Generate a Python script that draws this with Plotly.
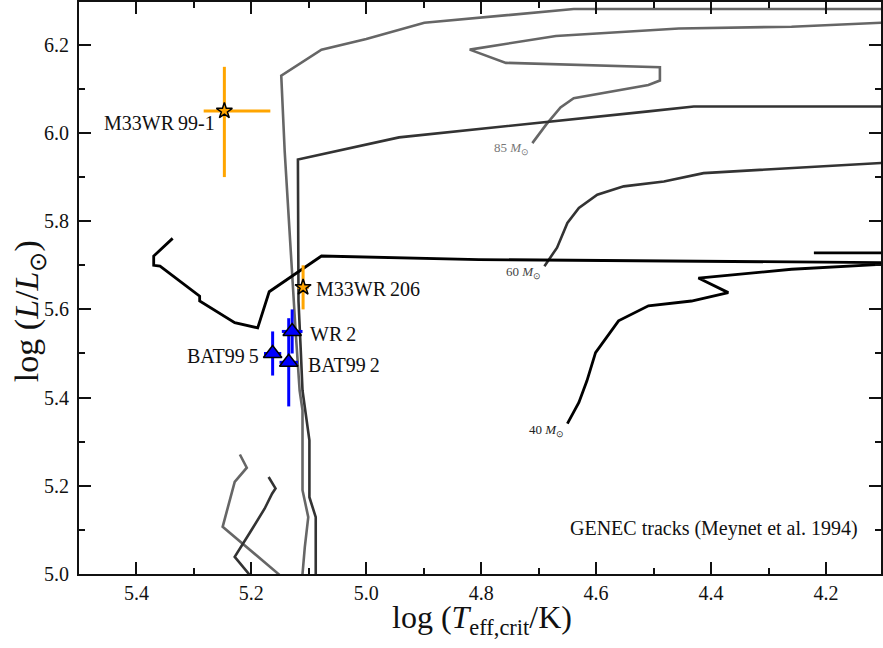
import plotly.graph_objects as go

# ---------------- evolutionary tracks (GENEC, Meynet et al. 1994) ----------------
# log Teff and log L along each track; segments that leave and re-enter the frame
# are stored separately.

# 85 Msun
t85_a_x = [4.711, 4.687, 4.662, 4.639, 4.509, 4.489, 4.489, 4.757, 4.820, 4.670, 4.456, 4.260, 4.104, 4.000]
t85_a_y = [5.977, 6.019, 6.058, 6.079, 6.109, 6.119, 6.149, 6.159, 6.189, 6.220, 6.237, 6.241, 6.250, 6.255]
t85_b_x = [4.000, 4.639, 4.899, 5.000, 5.078, 5.148, 5.142, 5.135, 5.130, 5.123, 5.116, 5.111, 5.111, 5.101, 5.107, 5.111, 5.111]
t85_b_y = [6.281, 6.281, 6.250, 6.213, 6.189, 6.130, 5.958, 5.800, 5.687, 5.551, 5.416, 5.371, 5.190, 5.129, 5.061, 5.000, 4.950]
t85_c_x = [5.220, 5.208, 5.229, 5.250, 5.151, 5.140]
t85_c_y = [5.271, 5.241, 5.209, 5.107, 4.998, 4.985]

# 60 Msun
t60_a_x = [4.690, 4.668, 4.650, 4.630, 4.598, 4.552, 4.482, 4.413, 4.104, 4.000]
t60_a_y = [5.698, 5.740, 5.796, 5.830, 5.860, 5.879, 5.890, 5.909, 5.932, 5.934]
t60_b_x = [4.000, 4.430, 4.509, 4.943, 5.119, 5.119, 5.118, 5.114, 5.111, 5.099, 5.099, 5.088, 5.088]
t60_b_y = [6.060, 6.060, 6.049, 5.990, 5.940, 5.800, 5.619, 5.506, 5.416, 5.303, 5.174, 5.129, 4.950]
t60_c_x = [5.170, 5.158, 5.164, 5.177, 5.203, 5.229, 5.203, 5.195]
t60_c_y = [5.220, 5.194, 5.182, 5.148, 5.093, 5.039, 4.998, 4.985]

# 40 Msun
t40_a_x = [4.650, 4.630, 4.616, 4.601, 4.561, 4.509, 4.434, 4.370, 4.422, 4.260, 4.104, 4.000]
t40_a_y = [5.341, 5.389, 5.438, 5.502, 5.574, 5.608, 5.619, 5.638, 5.671, 5.691, 5.702, 5.705]
t40_b_x = [4.000, 4.509, 4.804, 5.078, 5.169, 5.189, 5.229, 5.290, 5.290, 5.359, 5.370, 5.370, 5.337]
t40_b_y = [5.705, 5.710, 5.713, 5.721, 5.640, 5.558, 5.570, 5.619, 5.630, 5.698, 5.700, 5.721, 5.761]
t40_c_x = [4.221, 4.000]
t40_c_y = [5.728, 5.728]

# ---------------- observed stars ----------------
m33_names = ["M33WR\u200999-1", "M33WR\u2009206"]
m33_logT = [5.247, 5.110]
m33_logL = [6.05, 5.65]
m33_eT_plus = [0.036, 0.010]
m33_eT_minus = [0.080, 0.010]
m33_eL_plus = [0.10, 0.05]
m33_eL_minus = [0.15, 0.05]

lmc_names = ["WR\u20092", "BAT99\u20095", "BAT99\u20092"]
lmc_logT = [5.129, 5.163, 5.135]
lmc_logL = [5.55, 5.50, 5.48]
lmc_eT = [0.018, 0.015, 0.016]
lmc_eL = [0.05, 0.05, 0.10]

mass_labels = ["85", "60", "40"]

FONT = "Liberation Serif"
GRAY85 = "#666666"
DARK60 = "#333333"
BLACK40 = "#000000"

fig = go.Figure()


def track(x, y, color, width):
    fig.add_trace(go.Scatter(x=x, y=y, mode="lines",
                             line=dict(color=color, width=width),
                             hoverinfo="skip", showlegend=False))


for xs, ys in [(t85_a_x, t85_a_y), (t85_b_x, t85_b_y), (t85_c_x, t85_c_y)]:
    track(xs, ys, GRAY85, 2.6)
for xs, ys in [(t60_a_x, t60_a_y), (t60_b_x, t60_b_y), (t60_c_x, t60_c_y)]:
    track(xs, ys, DARK60, 2.6)
for xs, ys in [(t40_a_x, t40_a_y), (t40_b_x, t40_b_y), (t40_c_x, t40_c_y)]:
    track(xs, ys, BLACK40, 2.8)

# M33 stars: orange error bars, star symbols
fig.add_trace(go.Scatter(
    x=m33_logT, y=m33_logL, mode="markers",
    marker=dict(symbol="star", size=12, color="#FFA500",
                line=dict(color="black", width=1.5)),
    error_x=dict(type="data", symmetric=False, array=m33_eT_plus,
                 arrayminus=m33_eT_minus, color="#FFA500", thickness=3, width=0),
    error_y=dict(type="data", symmetric=False, array=m33_eL_plus,
                 arrayminus=m33_eL_minus, color="#FFA500", thickness=3, width=0),
    showlegend=False))

# LMC / Galactic stars: blue error bars, triangles
fig.add_trace(go.Scatter(
    x=lmc_logT, y=lmc_logL, mode="markers",
    marker=dict(symbol="triangle-up", size=16, color="#0000FF",
                line=dict(color="black", width=1.5)),
    error_x=dict(type="data", array=lmc_eT, color="#0000FF", thickness=3, width=0),
    error_y=dict(type="data", array=lmc_eL, color="#0000FF", thickness=3, width=0),
    showlegend=False))

ann = []
# star labels: (x, y, text, xanchor, xshift, yshift)
star_label_pos = [
    (m33_logT[0], m33_logL[0], m33_names[0], "right", -7, -12),
    (m33_logT[1], m33_logL[1], m33_names[1], "left", 11, -2),
    (lmc_logT[0], lmc_logL[0], lmc_names[0], "left", 16, -3),
    (lmc_logT[1], lmc_logL[1], lmc_names[1], "right", -12, -3),
    (lmc_logT[2], lmc_logL[2], lmc_names[2], "left", 17, -3),
]
for x, y, t, xa, xs, ys in star_label_pos:
    ann.append(dict(x=x, y=y, xref="x", yref="y", text=t, showarrow=False,
                    xanchor=xa, yanchor="middle", xshift=xs, yshift=ys,
                    font=dict(family=FONT, size=20, color="#111111")))

# mass labels at the start of each track
for lab, (x0, y0), col, ys in zip(mass_labels,
                                  [(t85_a_x[0], t85_a_y[0]), (t60_a_x[0], t60_a_y[0]),
                                   (t40_a_x[0], t40_a_y[0])],
                                  ["#777777", "#444444", "#222222"], [-5, -6, -7]):
    ann.append(dict(x=x0, y=y0, xref="x", yref="y",
                    text=f"{lab} <i>M</i><sub>⊙</sub>", showarrow=False,
                    xanchor="right", yanchor="middle", xshift=-1, yshift=ys,
                    font=dict(family=FONT, size=13, color=col)))

ann.append(dict(x=0.974, y=0.0796, xref="paper", yref="paper",
                text="GENEC tracks (Meynet et al. 1994)", showarrow=False,
                xanchor="right", yanchor="middle",
                font=dict(family=FONT, size=20, color="#111111")))

# axis titles
ann.append(dict(x=0.503, y=-0.080, xref="paper", yref="paper",
                text="log (<i>T</i><sub>eff,crit</sub>/K)", showarrow=False,
                xanchor="center", yanchor="middle",
                font=dict(family=FONT, size=32, color="#111111")))
ann.append(dict(x=-0.062, y=0.46, xref="paper", yref="paper",
                text="log (<i>L</i>/<i>L</i><sub>⊙</sub>)", showarrow=False,
                textangle=-90, xanchor="center", yanchor="middle",
                font=dict(family=FONT, size=34, color="#111111")))

axis_common = dict(
    showgrid=False, zeroline=False, showline=True, linecolor="#111111", linewidth=2,
    mirror="allticks", ticks="inside", ticklen=12, tickwidth=1.5, tickcolor="#111111",
    tickformat=".1f", dtick=0.2,
    tickfont=dict(family=FONT, size=20, color="#111111"),
    minor=dict(ticks="inside", ticklen=6, tickwidth=1.5, tickcolor="#111111", dtick=0.1),
)

fig.update_xaxes(range=[5.5, 4.1042], tick0=5.0, **axis_common)
fig.update_yaxes(range=[5.0, 6.297], tick0=5.0, ticklabelstandoff=4, **axis_common)

fig.update_layout(
    width=883, height=648,
    margin=dict(l=79, r=0, t=0, b=74),
    plot_bgcolor="white", paper_bgcolor="white",
    annotations=ann,
    font=dict(family=FONT),
)

fig.write_html("out.html")
